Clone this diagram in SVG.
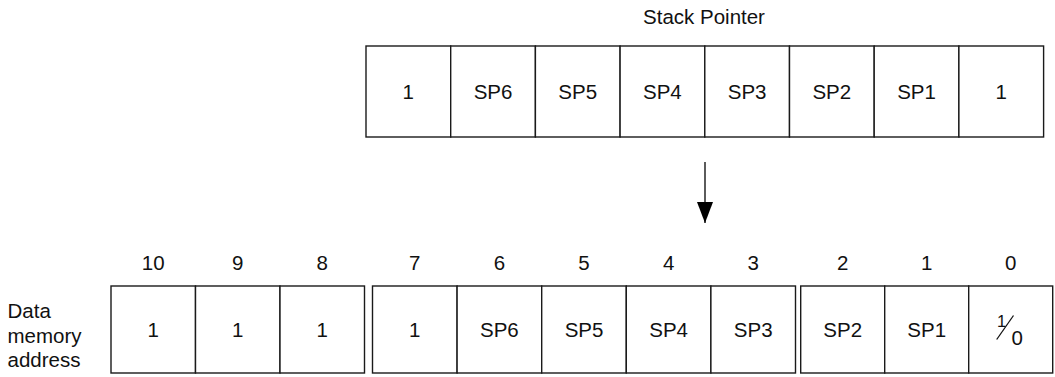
<svg xmlns="http://www.w3.org/2000/svg" width="1055" height="377" viewBox="0 0 1055 377">
<style>
  .cell { fill: #ffffff; stroke: #1a1a1a; stroke-width: 1.4; }
  .t { font-family: "Liberation Sans", Arial, sans-serif; font-size: 20.5px; fill: #111; text-anchor: middle; }
  .lbl { font-family: "Liberation Sans", Arial, sans-serif; font-size: 20.5px; fill: #111; }
  .conn { stroke: #333; stroke-width: 1.6; fill: none; }
</style>
<defs>
  <marker id="arrow" markerWidth="21" markerHeight="16" refX="21" refY="8" orient="auto" markerUnits="userSpaceOnUse" viewBox="0 0 21 16">
    <path d="M0,0 L21,8 L0,16 Z" fill="#000"/>
  </marker>
</defs>
<rect width="1055" height="377" fill="#ffffff"/>

<text id="title" class="t" x="704" y="23.5">Stack Pointer</text>

<!-- Stack pointer register -->
<g id="sp-reg">
  <g id="sp-b7"><rect class="cell" x="366" y="46" width="84.7" height="91"/><text class="t" x="408.3" y="98.8">1</text></g>
  <g id="sp-b6"><rect class="cell" x="450.7" y="46" width="84.7" height="91"/><text class="t" x="493" y="98.8">SP6</text></g>
  <g id="sp-b5"><rect class="cell" x="535.4" y="46" width="84.7" height="91"/><text class="t" x="577.7" y="98.8">SP5</text></g>
  <g id="sp-b4"><rect class="cell" x="620.1" y="46" width="84.7" height="91"/><text class="t" x="662.4" y="98.8">SP4</text></g>
  <g id="sp-b3"><rect class="cell" x="704.8" y="46" width="84.7" height="91"/><text class="t" x="747.1" y="98.8">SP3</text></g>
  <g id="sp-b2"><rect class="cell" x="789.5" y="46" width="84.7" height="91"/><text class="t" x="831.8" y="98.8">SP2</text></g>
  <g id="sp-b1"><rect class="cell" x="874.2" y="46" width="84.7" height="91"/><text class="t" x="916.5" y="98.8">SP1</text></g>
  <g id="sp-b0"><rect class="cell" x="958.9" y="46" width="84.7" height="91"/><text class="t" x="1001.2" y="98.8">1</text></g>
</g>

<!-- Connectors -->
<g id="connectors">
  <line class="conn" x1="705" y1="162" x2="705" y2="223" marker-end="url(#arrow)"/>
</g>

<!-- Data memory address label -->
<g id="dm-label">
  <text class="lbl" x="7.5" y="318.3">Data</text>
  <text class="lbl" x="7.5" y="342.8">memory</text>
  <text class="lbl" x="7.5" y="367.3">address</text>
</g>

<!-- Bit numbers -->
<g id="bit-numbers">
  <text class="t" x="153.2" y="270">10</text>
  <text class="t" x="237.7" y="270">9</text>
  <text class="t" x="322.2" y="270">8</text>
  <text class="t" x="414.8" y="270">7</text>
  <text class="t" x="499.4" y="270">6</text>
  <text class="t" x="584" y="270">5</text>
  <text class="t" x="668.6" y="270">4</text>
  <text class="t" x="753.2" y="270">3</text>
  <text class="t" x="842.7" y="270">2</text>
  <text class="t" x="926.7" y="270">1</text>
  <text class="t" x="1010.7" y="270">0</text>
</g>

<!-- Data memory address cells -->
<g id="dm-group-high">
  <g id="dm-b10"><rect class="cell" x="111" y="286" width="84.5" height="87"/><text class="t" x="153.2" y="337">1</text></g>
  <g id="dm-b9"><rect class="cell" x="195.5" y="286" width="84.5" height="87"/><text class="t" x="237.7" y="337">1</text></g>
  <g id="dm-b8"><rect class="cell" x="280" y="286" width="84.5" height="87"/><text class="t" x="322.2" y="337">1</text></g>
</g>
<g id="dm-group-mid">
  <g id="dm-b7"><rect class="cell" x="372.5" y="286" width="84.6" height="87"/><text class="t" x="414.8" y="337">1</text></g>
  <g id="dm-b6"><rect class="cell" x="457.1" y="286" width="84.6" height="87"/><text class="t" x="499.4" y="337">SP6</text></g>
  <g id="dm-b5"><rect class="cell" x="541.7" y="286" width="84.6" height="87"/><text class="t" x="584" y="337">SP5</text></g>
  <g id="dm-b4"><rect class="cell" x="626.3" y="286" width="84.6" height="87"/><text class="t" x="668.6" y="337">SP4</text></g>
  <g id="dm-b3"><rect class="cell" x="710.9" y="286" width="84.6" height="87"/><text class="t" x="753.2" y="337">SP3</text></g>
</g>
<g id="dm-group-low">
  <g id="dm-b2"><rect class="cell" x="800.7" y="286" width="84" height="87"/><text class="t" x="842.7" y="337">SP2</text></g>
  <g id="dm-b1"><rect class="cell" x="884.7" y="286" width="84" height="87"/><text class="t" x="926.7" y="337">SP1</text></g>
  <g id="dm-b0"><rect class="cell" x="968.7" y="286" width="84" height="87"/>
    <text class="t" x="1001.7" y="326.7" style="font-size:16.5px">1</text>
    <line x1="996.7" y1="339.5" x2="1013.5" y2="315.5" stroke="#111" stroke-width="1.3"/>
    <text class="t" x="1017.2" y="345">0</text>
  </g>
</g>
</svg>
